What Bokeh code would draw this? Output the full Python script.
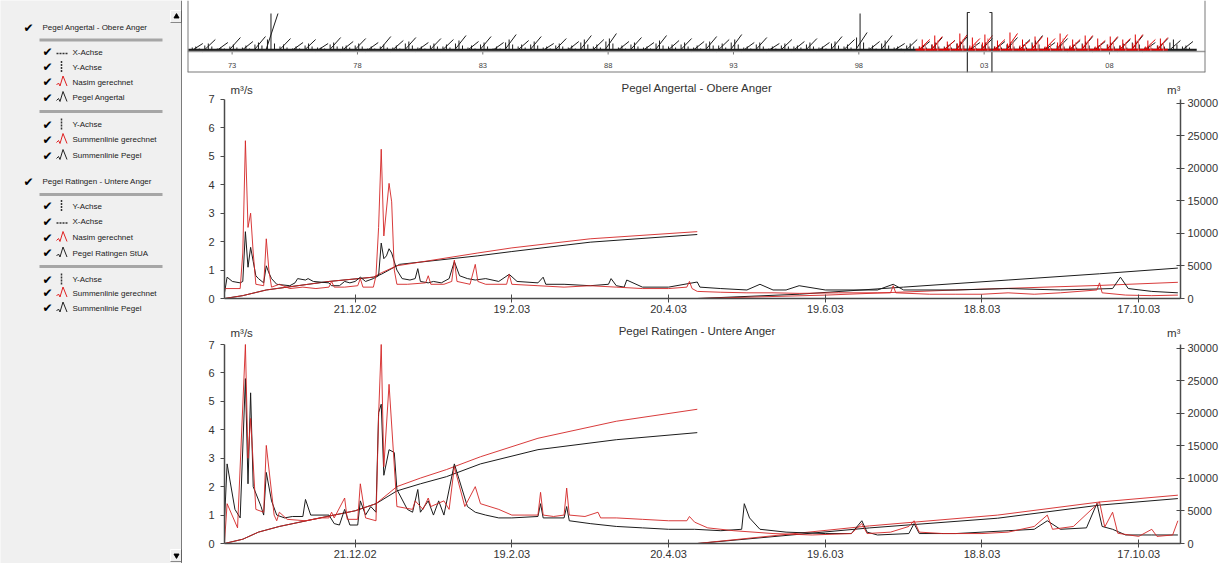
import numpy as np
from bokeh.plotting import figure
from bokeh.layouts import row, column
from bokeh.models import Range1d, LinearAxis, FixedTicker, Span
from bokeh.core.properties import value
from bokeh.embed import file_html
from bokeh.resources import INLINE

# ---------------- data ----------------
# x axis of the detail charts: days since 1.11.2002
tick_days = [50, 110, 170, 230, 290, 350]
tick_labels = ["21.12.02", "19.2.03", "20.4.03", "19.6.03", "18.8.03", "17.10.03"]
q_ticks = [0, 1, 2, 3, 4, 5, 6, 7]
cum_ticks = [0, 5000, 10000, 15000, 20000, 25000, 30000]

# Pegel Angertal - Obere Anger : daily discharge m3/s
ang_calc_day = [0, 6, 7, 8, 9, 10, 11, 12, 15, 16, 17, 18, 21, 25, 30, 35, 40, 41, 42, 46,
                51, 52, 53, 57, 58, 59, 60, 61, 63, 64, 65, 66, 70, 77, 78, 79, 84, 87, 88, 89,
                94, 96, 97, 100, 108, 109, 110, 120, 130, 140, 150, 160, 170, 177, 178, 179,
                181, 190, 200, 210, 220, 235, 250, 255, 256, 257, 270, 280, 290, 300, 310, 320,
                334, 335, 336, 345, 355, 365]
ang_calc_q = [0.35, 0.35, 1.6, 5.55, 2.5, 3.0, 1.6, 0.5, 0.45, 2.1, 1.0, 0.4, 0.5, 0.35, 0.4, 0.35, 0.4, 0.6, 0.4, 0.4,
              0.45, 0.7, 0.4, 0.4, 0.8, 2.5, 5.25, 2.2, 4.05, 3.4, 1.0, 0.5, 0.5, 0.55, 0.8, 0.5, 0.5, 0.6, 1.35, 0.6,
              0.5, 1.2, 0.6, 0.5, 0.5, 0.85, 0.5, 0.45, 0.4, 0.45, 0.4, 0.35, 0.35, 0.4, 0.6, 0.35,
              0.25, 0.22, 0.2, 0.2, 0.18, 0.2, 0.2, 0.2, 0.45, 0.2, 0.15, 0.15, 0.15, 0.2, 0.15, 0.2,
              0.3, 0.55, 0.2, 0.12, 0.1, 0.12]
ang_gauge_day = [0, 1, 3, 6, 7, 8, 9, 10, 11, 12, 13, 15, 16, 17, 18, 20, 25, 27, 28, 31,
                 32, 34, 40, 41, 44, 46, 48, 50, 52, 54, 57, 59, 60, 61, 62, 63, 64, 66, 68, 71,
                 73, 74, 75, 78, 80, 83, 86, 88, 90, 93, 96, 100, 105, 109, 112, 120, 122, 123, 130, 140,
                 147, 148, 150, 153, 154, 160, 170, 181, 182, 190, 200, 205, 210, 215, 220, 230, 250, 256, 260, 280,
                 300, 320, 340, 343, 346, 355, 365]
ang_gauge_q = [0.2, 0.75, 0.6, 0.55, 0.6, 2.35, 1.1, 1.8, 1.3, 0.8, 0.7, 0.55, 1.15, 0.9, 0.7, 0.5, 0.45, 0.55, 0.7, 0.65,
               0.7, 0.6, 0.55, 0.45, 0.45, 0.6, 0.55, 0.6, 0.75, 0.6, 0.7, 0.8, 1.95, 1.4, 1.5, 1.75, 1.6, 1.0, 0.7, 0.65,
               0.7, 1.05, 0.6, 0.55, 0.6, 0.55, 0.7, 1.3, 0.8, 0.7, 0.65, 0.7, 0.6, 0.85, 0.6, 0.55, 0.75, 0.5, 0.5, 0.45,
               0.5, 0.7, 0.45, 0.4, 0.65, 0.4, 0.4, 0.58, 0.4, 0.35, 0.3, 0.5, 0.3, 0.3, 0.45, 0.3, 0.3, 0.5, 0.3, 0.3,
               0.35, 0.3, 0.35, 0.75, 0.35, 0.25, 0.2]
# cumulative volume (1000 m3), restarted on 1 May
ang_cum_calc_day = [[0, 7, 16, 40, 57, 60, 66, 97, 110, 140, 181], [181, 230, 280, 335, 365]]
ang_cum_calc = [[0, 440, 1310, 2620, 3280, 3940, 5030, 7000, 7780, 9180, 10280], [0, 520, 1310, 2010, 2490]]
ang_cum_gauge_day = [[0, 7, 16, 40, 57, 60, 67, 97, 110, 140, 181], [181, 220, 260, 300, 335, 365]]
ang_cum_gauge = [[0, 440, 1310, 2620, 3280, 3720, 5250, 6560, 7220, 8660, 9840], [0, 660, 1750, 2840, 3800, 4680]]

# Pegel Ratingen - Untere Anger
rat_calc_day = [0, 1, 5, 8, 9, 10, 12, 15, 16, 19, 20, 21, 24, 31, 37, 40, 41, 42, 46, 47,
                51, 52, 54, 58, 59, 60, 61, 63, 66, 72, 73, 76, 78, 79, 84, 86, 88, 92, 96, 98,
                105, 110, 115, 120, 121, 122, 126, 130, 131, 132, 138, 143, 144, 150, 160, 170, 177, 178, 180, 185,
                195, 210, 225, 240, 244, 246, 255, 262, 264, 266, 275, 290, 300, 310, 315, 317, 325, 335, 337, 340,
                342, 350, 355, 357, 363, 365]
rat_calc_q = [0.05, 1.4, 0.55, 7.0, 3.0, 4.4, 1.2, 1.1, 3.45, 1.0, 0.8, 1.1, 0.85, 0.8, 0.9, 0.9, 1.1, 0.9, 1.6, 0.85,
              0.85, 2.1, 0.9, 0.8, 4.5, 7.0, 2.7, 5.6, 1.3, 1.2, 1.5, 1.2, 1.6, 1.3, 1.5, 1.2, 2.7, 1.3, 2.0, 1.4,
              1.2, 1.0, 1.0, 1.0, 1.8, 1.0, 0.95, 1.0, 1.95, 1.0, 0.95, 1.1, 0.9, 0.9, 0.85, 0.8, 0.8, 0.95, 0.75, 0.55,
              0.45, 0.35, 0.3, 0.35, 0.7, 0.35, 0.4, 0.6, 0.8, 0.4, 0.35, 0.35, 0.4, 0.6, 1.0, 0.5, 0.6, 1.46, 0.58, 1.1,
              0.36, 0.25, 0.5, 0.25, 0.3, 0.8]
rat_gauge_day = [0, 1, 4, 6, 8, 9, 10, 11, 14, 15, 16, 18, 20, 23, 26, 30, 31, 33, 40, 42,
                 44, 46, 48, 51, 52, 54, 56, 58, 59, 60, 61, 63, 65, 66, 70, 72, 74, 75, 78, 80,
                 82, 84, 88, 93, 96, 100, 105, 110, 120, 121, 122, 130, 131, 132, 140,
                 150, 160, 170, 180, 190, 198, 199, 201, 205, 215, 230, 240, 244, 246, 250,
                 262, 264, 266, 280, 290, 300, 310, 315, 320, 330, 334, 336, 340, 345, 355, 365]
rat_gauge_q = [0.8, 2.8, 1.2, 0.9, 5.8, 2.1, 5.3, 2.0, 1.3, 1.0, 2.5, 1.5, 1.0, 0.9, 0.95, 0.95, 1.55, 1.0, 1.0, 0.7,
               0.65, 1.2, 0.65, 0.65, 1.5, 1.0, 1.3, 1.1, 4.6, 4.9, 2.4, 3.3, 3.2, 1.9, 1.2, 1.1, 1.9, 1.1, 1.5, 1.0,
               1.5, 1.0, 2.8, 1.3, 1.1, 1.0, 0.9, 0.9, 0.95, 1.4, 0.9, 0.9, 1.3, 0.8, 0.7,
               0.6, 0.55, 0.5, 0.5, 0.45, 0.5, 1.4, 0.9, 0.5, 0.4, 0.35, 0.35, 0.8, 0.4, 0.3,
               0.35, 0.7, 0.35, 0.35, 0.4, 0.45, 0.5, 0.8, 0.5, 0.55, 1.41, 0.6, 0.5, 0.3, 0.3, 0.3]
rat_cum_calc_day = [[0, 7, 13, 21, 34, 50, 58, 66, 75, 85, 98, 120, 150, 181], [181, 247, 296, 335, 365]]
rat_cum_calc = [[0, 660, 1750, 2620, 3720, 5030, 6120, 8750, 10060, 11370, 13340, 16180, 18800, 20640],
                [0, 2710, 4370, 6380, 7430]]
rat_cum_gauge_day = [[0, 7, 13, 21, 34, 50, 58, 66, 75, 85, 98, 120, 150, 181], [181, 247, 296, 335, 365]]
rat_cum_gauge = [[0, 660, 1750, 2620, 3720, 5030, 6120, 8090, 9180, 10280, 12240, 14430, 15960, 17050],
                 [0, 2400, 3890, 5900, 6910]]

# overview strip 1971-2011 (relative heights), one value per hydrological half-year
ov_tick_years = [1973, 1978, 1983, 1988, 1993, 1998, 2003, 2008]
ov_tick_labels = ["73", "78", "83", "88", "93", "98", "03", "08"]
ov_gauge_first = 1971.33
ov_gauge_cum = [8, 12, 9, 14, 10, 15, 38, 13, 9, 12, 8, 14, 10, 13, 9, 15, 11, 14, 9, 13,
                12, 16, 10, 15, 9, 17, 11, 15, 8, 13, 10, 16, 12, 18, 10, 14, 9, 16, 11, 13,
                10, 15, 12, 17, 9, 14, 8, 12, 10, 13, 9, 15, 12, 19, 10, 16, 8, 12, 10, 14,
                11, 15, 9, 13, 10, 14, 12, 16, 9, 13, 11, 15, 10, 14, 12, 16, 9, 13, 11, 10]
ov_gauge_peak = [5, 8, 4, 7, 6, 9, 38, 7, 5, 8, 4, 9, 6, 8, 5, 7, 6, 10, 5, 8,
                 7, 11, 6, 9, 5, 12, 7, 10, 5, 8, 6, 12, 7, 13, 6, 9, 5, 11, 7, 9,
                 6, 10, 8, 12, 5, 9, 5, 8, 6, 9, 5, 10, 7, 38, 6, 11, 5, 8, 6, 9,
                 7, 10, 5, 9, 6, 9, 7, 11, 5, 8, 7, 10, 6, 9, 8, 11, 5, 8, 12, 6]
ov_gauge_peak2 = [4, 6, 3, 5, 4, 7, 12, 5, 3, 6, 4, 7, 5, 6, 3, 5, 4, 8, 4, 6,
                  5, 8, 4, 7, 3, 9, 5, 7, 4, 6, 4, 9, 5, 10, 4, 7, 4, 8, 5, 7,
                  4, 8, 6, 9, 4, 7, 3, 6, 5, 7, 4, 8, 5, 14, 4, 8, 4, 6, 5, 7,
                  5, 8, 4, 7, 5, 7, 5, 9, 4, 6, 5, 8, 4, 7, 6, 9, 4, 6, 9, 5]
ov_gauge_peak3 = [3, 5, 3, 4, 3, 6, 8, 4, 3, 5, 3, 5, 4, 5, 3, 4, 3, 6, 3, 5,
                  4, 6, 3, 5, 3, 7, 4, 6, 3, 5, 3, 7, 4, 8, 3, 5, 3, 6, 4, 5,
                  3, 6, 4, 7, 3, 5, 3, 5, 4, 5, 3, 6, 4, 9, 3, 6, 3, 5, 4, 5,
                  4, 6, 3, 5, 4, 5, 4, 7, 3, 5, 4, 6, 3, 5, 4, 7, 3, 5, 7, 4]
ov_calc_first = 2000.33
ov_calc_cum = [12, 15, 11, 17, 13, 16, 12, 18, 11, 15, 13, 17, 12, 16, 11, 15, 13, 17, 12, 14]
ov_calc_peak = [12, 16, 10, 18, 14, 17, 11, 19, 12, 15, 14, 18, 12, 16, 13, 15, 12, 17, 11, 13]
ov_calc_peak2 = [8, 11, 7, 12, 9, 13, 8, 12, 9, 10, 8, 13, 9, 11, 8, 10, 9, 12, 8, 9]
ov_calc_peak3 = [5, 7, 4, 8, 6, 9, 5, 8, 6, 7, 5, 9, 6, 7, 5, 7, 6, 8, 5, 6]
ov_window = [2002.33, 2003.31]

legend_groups = ["Pegel Angertal - Obere Anger", "Pegel Ratingen - Untere Anger"]
legend_items = [
    [[("X-Achse", "x"), ("Y-Achse", "y"), ("Nasim gerechnet", "r"), ("Pegel Angertal", "k")],
     [("Y-Achse", "y"), ("Summenlinie gerechnet", "r"), ("Summenlinie Pegel", "k")]],
    [[("Y-Achse", "y"), ("X-Achse", "x"), ("Nasim gerechnet", "r"), ("Pegel Ratingen StUA", "k")],
     [("Y-Achse", "y"), ("Summenlinie gerechnet", "r"), ("Summenlinie Pegel", "k")]],
]

# ---------------- style ----------------
FONT = "Liberation Sans"
RED = "#d42626"
BLK = "#1c1c1c"
AX = "#4a4a4a"
TXT = "#333333"
PANEL = "#f0f0f0"
Q_MAX = 7
CUM_MAX = 30600


def style_axis(ax, tin, tout, standoff):
    ax.axis_line_color = AX
    ax.axis_line_width = 1.5
    ax.major_tick_line_color = AX
    ax.major_tick_in = tin
    ax.major_tick_out = tout
    ax.minor_tick_line_color = None
    ax.major_label_text_font = FONT
    ax.major_label_text_font_size = "11px"
    ax.major_label_text_color = TXT
    ax.major_label_standoff = standoff


def main_plot(title, h, top_val, title_y, unit_y, calc_d, calc_q, gauge_d, gauge_q,
              ccd, cc, cgd, cg):
    p = figure(width=1039, height=h, x_range=Range1d(0, 366), y_range=Range1d(0, top_val),
               output_backend="svg", toolbar_location=None, title=None,
               min_border_left=42, min_border_right=39, min_border_top=0, min_border_bottom=20)
    p.extra_y_ranges = {"cum": Range1d(0, CUM_MAX * top_val / Q_MAX)}
    p.grid.visible = False
    p.outline_line_color = None
    p.background_fill_color = "white"
    p.border_fill_color = "white"
    xa = p.xaxis[0]
    xa.ticker = FixedTicker(ticks=tick_days)
    xa.major_label_overrides = {d: l for d, l in zip(tick_days, tick_labels)}
    style_axis(xa, 4, 4, 2)
    ya = p.yaxis[0]
    ya.ticker = FixedTicker(ticks=q_ticks)
    ya.bounds = (0, Q_MAX)
    style_axis(ya, 0, 4, 6)
    ra = LinearAxis(y_range_name="cum", ticker=FixedTicker(ticks=cum_ticks), bounds=(0, CUM_MAX))
    style_axis(ra, 4, 4, 3)
    p.add_layout(ra, "right")

    for d, c in zip(cgd, cg):
        p.line(d, c, y_range_name="cum", line_color=BLK, line_width=1)
    for d, c in zip(ccd, cc):
        p.line(d, c, y_range_name="cum", line_color=RED, line_width=1, line_alpha=0.9)
    p.line(gauge_d, gauge_q, line_color=BLK, line_width=1)
    p.line(calc_d, calc_q, line_color=RED, line_width=1, line_alpha=0.9)

    p.text(x=[181], y=[title_y], text=[title], text_font=value(FONT), text_font_size=value("11.5px"),
           text_color=TXT, text_align="center", text_baseline="middle")
    p.text(x=[2.3], y=[unit_y], text=["m³/s"], text_font=value(FONT), text_font_size=value("11.5px"),
           text_color=TXT, text_baseline="middle")
    p.text(x=[366], y=[unit_y], text=["m³"], text_font=value(FONT), text_font_size=value("11.5px"),
           text_color=TXT, text_baseline="middle", text_align="right")
    return p


p1 = main_plot("Pegel Angertal - Obere Anger", 243, 7.844, 7.42, 7.35,
               ang_calc_day, ang_calc_q, ang_gauge_day, ang_gauge_q,
               ang_cum_calc_day, ang_cum_calc, ang_cum_gauge_day, ang_cum_gauge)
p2 = main_plot("Pegel Ratingen - Untere Anger", 245, 7.915, 7.46, 7.39,
               rat_calc_day, rat_calc_q, rat_gauge_day, rat_gauge_q,
               rat_cum_calc_day, rat_cum_calc, rat_cum_gauge_day, rat_cum_gauge)

# ---------------- overview ----------------
ov = figure(width=1039, height=75, x_range=Range1d(1971.22, 2011.83), y_range=Range1d(-21, 51),
            output_backend="svg", toolbar_location=None, x_axis_type=None, y_axis_type=None, title=None,
            min_border_left=5, min_border_right=16, min_border_top=0, min_border_bottom=3)
try:
    ov.frame_align = False
except Exception:
    pass
ov.grid.visible = False
ov.outline_line_color = None
ov.add_layout(Span(location=0, dimension="width", line_color="#9a9a9a", line_width=1.5))
for loc in (1971.22, 2011.83):
    ov.add_layout(Span(location=loc, dimension="height", line_color="#7a7a7a", line_width=2))
ov.add_layout(Span(location=-21, dimension="width", line_color="#7a7a7a", line_width=2))
ov.segment(x0=ov_tick_years, y0=[0] * len(ov_tick_years), x1=ov_tick_years, y1=[-3] * len(ov_tick_years),
           line_color="#777777", line_width=1)
ov.text(x=ov_tick_years, y=[-14] * len(ov_tick_years), text=ov_tick_labels, text_font=value(FONT),
        text_font_size=value("7.5px"), text_color="#444444", text_align="center", text_baseline="middle")

g_start = [ov_gauge_first + 0.5 * i for i in range(len(ov_gauge_cum))]
ov.line([g_start[0] - 0.08, g_start[-1] + 0.65], [1.5, 1.5], line_color=BLK, line_width=2.5)
ov.multi_line([[s, s + 0.5] for s in g_start], [[0, h] for h in ov_gauge_cum], line_color=BLK, line_width=1)
for off, peaks in ((0.22, ov_gauge_peak), (0.08, ov_gauge_peak2), (0.36, ov_gauge_peak3)):
    gx = [s + off for s in g_start]
    ov.segment(x0=gx, y0=[0] * len(gx), x1=gx, y1=peaks, line_color=BLK, line_width=1)

CRED = "#e00000"
c_start = [ov_calc_first + 0.5 * i for i in range(len(ov_calc_cum))]
ov.line([c_start[0] - 0.07, c_start[-1] + 0.5], [1.8, 1.8], line_color=CRED, line_width=2)
ov.multi_line([[s, s + 0.5] for s in c_start], [[0, h] for h in ov_calc_cum], line_color=CRED, line_width=1)
for off, peaks, col in ((0.2, ov_calc_peak, CRED), (0.32, ov_calc_peak2, "#e46060"), (0.1, ov_calc_peak3, CRED)):
    cx = [s + off for s in c_start]
    ov.segment(x0=cx, y0=[0] * len(cx), x1=cx, y1=peaks, line_color=col, line_width=1)

w0, w1 = ov_window
ov.multi_line([[w0 + 0.1, w0, w0], [w1 - 0.1, w1, w1]], [[39, 39, -21], [39, 39, -21]],
              line_color="#333333", line_width=1.2)

# ---------------- left panel ----------------
lp = figure(width=182, height=563, x_range=Range1d(0, 182), y_range=Range1d(563, 0),
            output_backend="svg", toolbar_location=None, x_axis_type=None, y_axis_type=None,
            title=None, min_border=0)
lp.grid.visible = False
lp.outline_line_color = None
lp.background_fill_color = PANEL
lp.border_fill_color = PANEL

hdr_y = [27, 181]
sep_y = [[39.5, 111], [194, 266]]
item_y = [[[51.5, 66.5, 81.5, 97], [124, 139, 155]], [[205.5, 221, 237, 252.5], [279, 292.5, 307.5]]]

tx, ty, tt = [], [], []
ckx, cky = [], []
sx0, sx1, sy = [], [], []
icon_x = {"x": [], "y": [], "r": [], "k": []}
icon_y = {"x": [], "y": [], "r": [], "k": []}
for gi, gname in enumerate(legend_groups):
    ckx.append(28); cky.append(hdr_y[gi])
    tx.append(42); ty.append(hdr_y[gi]); tt.append(gname)
    for si, sub in enumerate(legend_items[gi]):
        sx0.append(39); sx1.append(162); sy.append(sep_y[gi][si])
        for ii, (lab, kind) in enumerate(sub):
            yy = item_y[gi][si][ii]
            ckx.append(47); cky.append(yy)
            tx.append(72); ty.append(yy); tt.append(lab)
            if kind == "x":
                icon_x["x"].append([56, 67]); icon_y["x"].append([yy + 1.5, yy + 1.5])
            elif kind == "y":
                icon_x["y"].append([61, 61]); icon_y["y"].append([yy - 6, yy + 6])
            else:
                icon_x[kind].append([56, 58, 59.5, 62.5, 66.5])
                icon_y[kind].append([yy + 3, yy + 1, yy + 4, yy - 6, yy + 4])

lp.segment(x0=sx0, y0=sy, x1=sx1, y1=sy, line_color="#a6a6a6", line_width=3)
lp.text(x=ckx, y=cky, text=["✔"] * len(ckx), text_font=value("DejaVu Sans"), text_font_size=value("12px"),
        text_color="black", text_align="center", text_baseline="middle")
lp.text(x=tx, y=ty, text=tt, text_font=value(FONT), text_font_size=value("8px"), text_color="#1a1a1a",
        text_baseline="middle")
lp.multi_line(icon_x["x"], icon_y["x"], line_color="#333333", line_width=1.5, line_dash="2 1")
lp.multi_line(icon_x["y"], icon_y["y"], line_color="#333333", line_width=1.5, line_dash="2 1")
lp.multi_line(icon_x["r"], icon_y["r"], line_color="#e02020", line_width=1)
lp.multi_line(icon_x["k"], icon_y["k"], line_color="#222222", line_width=1)
# scrollbar arrows and separator
lp.scatter(x=[176, 176], y=[16, 555], marker=["triangle", "inverted_triangle"], size=5, color="black")
lp.multi_line([[170, 170, 181], [170, 170, 181]], [[22, 10, 10], [561, 549, 549]], line_color="#ffffff", line_width=1)
lp.multi_line([[170, 181, 181], [170, 181, 181]], [[22, 22, 10], [561, 561, 549]], line_color="#888888", line_width=1)
lp.line([181.5, 181.5], [0, 563], line_color="#555555", line_width=1.5)

layout = row(lp, column(ov, p1, p2))
open("out.html", "w").write(file_html(layout, INLINE))
